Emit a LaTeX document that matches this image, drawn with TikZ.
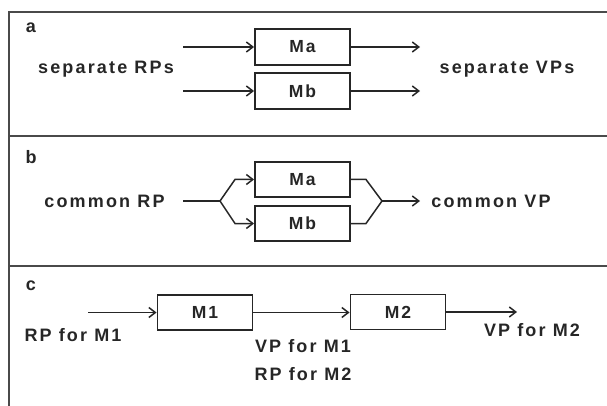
\documentclass[tikz,border=0pt]{standalone}
\usepackage{fontspec}
\setmainfont{Liberation Sans}[BoldFont={Liberation Sans Bold}]
\usetikzlibrary{arrows.meta}
\definecolor{ink}{HTML}{262626}
\definecolor{frame}{HTML}{4A4A4A}
\newfontfamily\lblfont{Liberation Sans Bold}[LetterSpace=12]
\tikzset{
  mbox/.style={draw=ink, line width=1.9pt, minimum width=95pt, minimum height=36pt, inner sep=0pt, font=\lblfont\fontsize{17.5}{20}\selectfont, text=ink},
  lbl/.style={anchor=base, inner sep=0pt, font=\lblfont\fontsize{18}{21}\selectfont, text=ink},
  conn/.style={draw=ink, line width=1.5pt},
  arr/.style={conn, -{Straight Barb[length=6.5pt,width=10pt,line width=1.5pt]}},
  frm/.style={draw=frame, line width=1.8pt}
}
\begin{document}
\begin{tikzpicture}[x=1pt,y=-1pt]
\useasboundingbox (0,0) rectangle (607,406);
% frame
\coordinate (ftl) at (9,12);
\coordinate (ftr) at (607,12);
\coordinate (fbl) at (9,406);
\coordinate (s1l) at (9,136);
\coordinate (s1r) at (607,136);
\coordinate (s2l) at (9,266);
\coordinate (s2r) at (607,266);
\draw[frm] (ftr) -- (ftl) -- (fbl);
\draw[frm] (s1l) -- (s1r);
\draw[frm] (s2l) -- (s2r);
% panel labels
\node[lbl] (la) at (31,33) {a};
\node[lbl] (lb) at (31,164) {b};
\node[lbl] (lc) at (31,290) {c};
% ---- panel a
\node[mbox] (aMa) at (302.5,47) {Ma};
\node[mbox] (aMb) at (302.5,91) {Mb};
\coordinate (aia) at (183,47);
\coordinate (aib) at (183,91);
\coordinate (aoa) at (420,47);
\coordinate (aob) at (420,91);
\draw[arr] (aia) -- (aMa.west);
\draw[arr] (aib) -- (aMb.west);
\draw[arr] (aMa.east) -- (aoa);
\draw[arr] (aMb.east) -- (aob);
\node[lbl] (sRP) at (106,74) {separate RPs};
\node[lbl] (sVP) at (507,74) {separate VPs};
% ---- panel b
\node[mbox, minimum height=35pt] (bMa) at (302.5,179.5) {Ma};
\node[mbox, minimum height=35pt] (bMb) at (302.5,223.5) {Mb};
\coordinate (bin) at (183,201);
\coordinate (bsp) at (220,201);
\coordinate (bua) at (235,179.5);
\coordinate (bub) at (235,223.5);
\draw[conn] (bin) -- (bsp);
\draw[arr] (bsp) -- (bua) -- (bMa.west);
\draw[arr] (bsp) -- (bub) -- (bMb.west);
\coordinate (boa) at (366,179.5);
\coordinate (bob) at (366,223.5);
\coordinate (bjn) at (382,201);
\coordinate (bout) at (420,201);
\draw[conn] (bMa.east) -- (boa) -- (bjn);
\draw[conn] (bMb.east) -- (bob) -- (bjn);
\draw[arr] (bjn) -- (bout);
\node[lbl] (cRP) at (104.5,207) {common RP};
\node[lbl] (cVP) at (491,207) {common VP};
% ---- panel c
\node[mbox, minimum height=35pt] (M1) at (205,312.5) {M1};
\node[mbox, minimum height=35pt] (M2) at (398,312) {M2};
\coordinate (cin) at (88,312.5);
\coordinate (cout) at (517,312);
\draw[arr] (cin) -- (M1.west);
\draw[arr] (M1.east) -- (M2.west |- M1.east);
\draw[arr] (M2.east) -- (cout);
\node[lbl] (rpm1) at (73,341) {RP for M1};
\node[lbl] (vpm1) at (303,352) {VP for M1};
\node[lbl] (rpm2) at (303,380) {RP for M2};
\node[lbl] (vpm2) at (532,336) {VP for M2};
\end{tikzpicture}
\end{document}
